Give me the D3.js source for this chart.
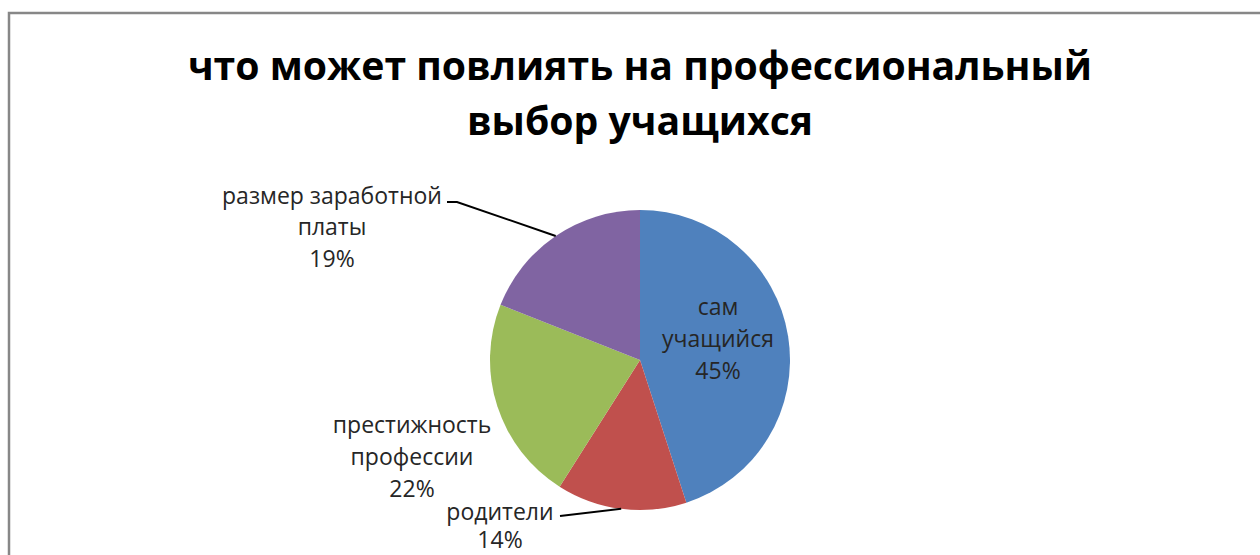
<!DOCTYPE html>
<html>
<head>
<meta charset="utf-8">
<script src="https://cdn.jsdelivr.net/npm/d3@7"></script>
<style>
  body { margin: 0; background: #fff; }
  svg { display: block; }
</style>
</head>
<body>
<div id="chart"></div>
<script>
// данные диаграммы
const titleLines = ["что может повлиять на профессиональный", "выбор учащихся"];
const categories = ["сам\nучащийся", "родители", "престижность\nпрофессии", "размер заработной\nплаты"];
const values = [45, 14, 22, 19];
const colors = ["#4F81BD", "#C0504D", "#9BBB59", "#8064A2"];

const width = 1260, height = 555;
const cx = 640, cy = 360, radius = 150;

// куда ставить подписи (смещение от центра круга), и есть ли выноска
const labelLayout = [
  { dx: 78, dy: -20, lineH: 32, leader: null },
  { dx: -140, dy: 167, lineH: 28, leader: { x: -80, y: 156 } },
  { dx: -228, dy: 98, lineH: 32, leader: null },
  { dx: -308, dy: -132, lineH: 31.5, leader: { x: -183, y: -158, x2: -193 } }
];

const svg = d3.select("#chart").append("svg").attr("width", width).attr("height", height);

svg.append("rect").attr("x", 0).attr("y", 0).attr("width", width).attr("height", height).attr("fill", "#fff");

// рамка области диаграммы (обрезана справа и снизу)
svg.append("path")
  .attr("d", `M9,${height + 5} L9,13 L${width + 5},13`)
  .attr("fill", "none").attr("stroke", "#878787").attr("stroke-width", 2.5);

svg.append("text")
  .attr("text-anchor", "middle")
  .style("font-family", "'Open Sans', sans-serif")
  .style("font-weight", "bold").style("font-size", "39.2px").attr("fill", "#000")
  .selectAll("tspan").data(titleLines).join("tspan")
  .attr("x", cx).attr("y", (d, i) => 80 + i * 55)
  .text(d => d);

const pie = d3.pie().sort(null).value(d => d.value);
const arc = d3.arc().innerRadius(0).outerRadius(radius);
const data = pie(values.map((v, i) => ({ value: v, name: categories[i], color: colors[i], layout: labelLayout[i] })));

const g = svg.append("g").attr("transform", `translate(${cx},${cy})`);

g.selectAll("path.slice").data(data).join("path")
  .attr("class", "slice")
  .attr("d", arc)
  .attr("fill", d => d.data.color);

// выноски
data.forEach(d => {
  const L = d.data.layout.leader;
  if (!L) return;
  const mid = (d.startAngle + d.endAngle) / 2;
  const px = radius * Math.sin(mid), py = -radius * Math.cos(mid);
  const pts = [[px, py], [L.x, L.y]];
  if (L.x2 !== undefined) pts.push([L.x2, L.y]);
  g.append("path")
    .attr("d", d3.line()(pts))
    .attr("fill", "none").attr("stroke", "#000").attr("stroke-width", 2);
});

// подписи
data.forEach(d => {
  const lay = d.data.layout;
  const lines = d.data.name.split("\n").concat([Math.round(d.data.value) + "%"]);
  const y0 = lay.dy - (lines.length - 1) * lay.lineH / 2;
  g.append("text")
    .attr("text-anchor", "middle")
    .style("font-family", "'Open Sans', sans-serif")
    .style("font-size", "23px").attr("fill", "#262626")
    .selectAll("tspan").data(lines).join("tspan")
    .attr("x", lay.dx)
    .attr("y", (t, i) => y0 + i * lay.lineH + 7)
    .text(t => t);
});
</script>
</body>
</html>
